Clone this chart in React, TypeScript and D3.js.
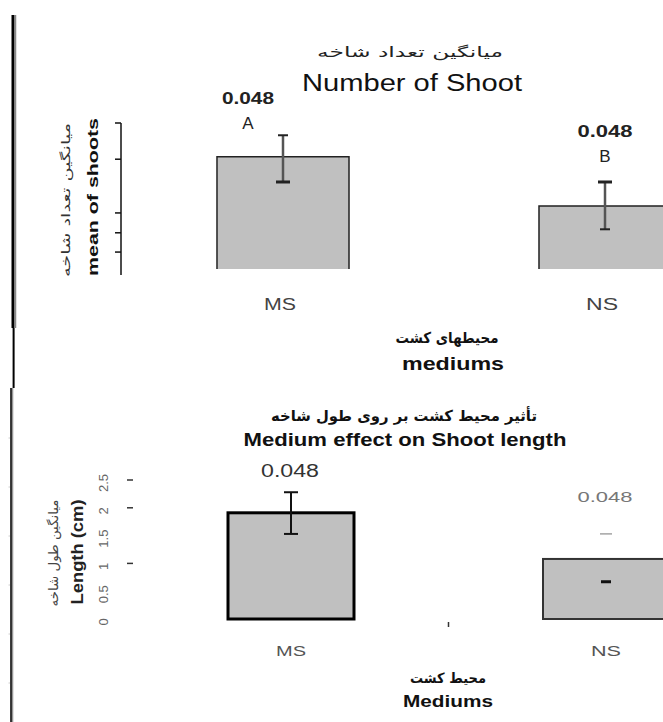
import React from "react";
import * as d3 from "d3";

// ---------- data ----------
const categories = ["MS", "NS"];

// Panel 1: Number of Shoot
const shootMeans = [1.92, 1.08];
const shootErrHigh = [2.29, 1.49];
const shootErrLow = [1.49, 0.68];
const shootPValues = ["0.048", "0.048"];
const shootGroups = ["A", "B"];
const shootTicks = [0.29, 0.62, 0.96, 1.88, 2.5];

// Panel 2: Shoot length
const lengthMeans = [1.91, 1.08];
const lengthErrHigh = [2.28, 1.53];
const lengthErrLow = [1.53, 0.67];
const lengthPValues = ["0.048", "0.048"];
const lengthTicks = [0, 0.5, 1, 1.5, 2, 2.5];
const lengthTickLabels = ["0", "0.5", "1", "1.5", "2", "2.5"];
const lengthTickMarks = [1, 2, 2.5];

const FA = "'DejaVu Sans', sans-serif";
const EN = "'Liberation Sans', Arial, sans-serif";

export default function App() {
  // ---- panel 1 scales
  const x1 = d3.scaleBand<string>().domain(categories).range([27, 861]).paddingInner(0.59).paddingOuter(0.59);
  const y1 = d3.scaleLinear().domain([0, 2.5]).range([269, 123]);
  // ---- panel 2 scales
  const x2 = d3.scaleBand<string>().domain(categories).range([39, 858]).paddingInner(0.6).paddingOuter(0.6);
  const y2 = d3.scaleLinear().domain([0, 2.5]).range([619, 480]);

  const axisX1 = 121;
  const bw1 = x1.bandwidth();
  const bw2 = x2.bandwidth();

  return (
    <svg
      width={663}
      height={722}
      viewBox="0 0 663 722"
      style={{ position: "absolute", left: 0, top: 0, background: "#fff" }}
    >
      <rect x={0} y={0} width={663} height={722} fill="#fff" />
      {/* left frame lines */}
      <line x1={13} x2={13} y1={15} y2={328} stroke="#000" strokeWidth={3} />
      <line x1={15.5} x2={15.5} y1={15} y2={328} stroke="#888" strokeWidth={1.5} />
      <line x1={13.6} x2={13.6} y1={328} y2={388} stroke="#000" strokeWidth={2} />
      <line x1={11.3} x2={11.3} y1={388} y2={722} stroke="#333" strokeWidth={2.5} />
      <line x1={12.8} x2={12.8} y1={388} y2={722} stroke="#999" strokeWidth={1} />
      {[438, 487, 536, 585, 634, 683].map((yy) => (
        <line key={yy} x1={8.5} x2={10} y1={yy} y2={yy} stroke="#ccc" strokeWidth={1} />
      ))}

      {/* ================= Panel 1 ================= */}
      <text x={410} y={57} textAnchor="middle" fontFamily={FA} fontSize={14} fill="#222" textLength={186} lengthAdjust="spacingAndGlyphs">
        میانگین تعداد شاخه
      </text>
      <text x={412} y={91} textAnchor="middle" fontFamily={EN} fontSize={23} fill="#111" textLength={220} lengthAdjust="spacingAndGlyphs">
        Number of Shoot
      </text>

      {/* y axis */}
      <line x1={axisX1} x2={axisX1} y1={y1(2.5)} y2={y1(0) + 6} stroke="#111" strokeWidth={1.5} />
      {shootTicks.map((t) => (
        <line key={t} x1={axisX1 - 6} x2={axisX1} y1={y1(t)} y2={y1(t)} stroke="#111" strokeWidth={1.5} />
      ))}

      {/* y titles */}
      <g transform={`translate(70, ${(y1(2.5) + y1(0)) / 2 + 4}) rotate(-90)`}>
        <text x={0} y={0} textAnchor="middle" fontFamily={FA} fontSize={12} fill="#333" textLength={154} lengthAdjust="spacingAndGlyphs">
          میانگین تعداد شاخه
        </text>
      </g>
      <g transform={`translate(98, ${(y1(2.5) + y1(0)) / 2 + 1}) rotate(-90)`}>
        <text x={0} y={0} textAnchor="middle" fontFamily={EN} fontSize={15} fontWeight="bold" fill="#111" textLength={158} lengthAdjust="spacingAndGlyphs">
          mean of shoots
        </text>
      </g>

      {/* bars */}
      {categories.map((c, i) => {
        const x0 = x1(c)!;
        const top = y1(shootMeans[i]);
        const bottom = y1(0);
        return (
          <g key={c}>
            <rect x={x0} y={top} width={bw1} height={bottom - top} fill="#c0c0c0" />
            <path d={`M${x0},${bottom} V${top} H${x0 + bw1} V${bottom}`} fill="none" stroke="#222" strokeWidth={1.5} />
          </g>
        );
      })}

      {/* error bars */}
      {categories.map((c, i) => {
        const cx = x1(c)! + bw1 / 2;
        const hi = y1(shootErrHigh[i]);
        const lo = y1(shootErrLow[i]);
        const thickTop = i === 1;
        return (
          <g key={c}>
            <line x1={cx} x2={cx} y1={hi} y2={lo} stroke="#555" strokeWidth={2.5} />
            <line x1={cx - (thickTop ? 7 : 5)} x2={cx + (thickTop ? 7 : 5)} y1={hi} y2={hi} stroke="#222" strokeWidth={thickTop ? 3 : 2} />
            <line x1={cx - (thickTop ? 5 : 7)} x2={cx + (thickTop ? 5 : 7)} y1={lo} y2={lo} stroke="#222" strokeWidth={thickTop ? 2 : 3} />
          </g>
        );
      })}

      {/* p-values and group letters */}
      {categories.map((c, i) => {
        const cx = x1(c)! + bw1 / 2;
        const base = i === 0 ? 104 : 137;
        return (
          <g key={c}>
            <text x={cx - (i === 0 ? 35 : 0)} y={base} textAnchor="middle" fontFamily={EN} fontSize={16} fontWeight="bold" fill="#222" textLength={i === 0 ? 52 : 55} lengthAdjust="spacingAndGlyphs">
              {shootPValues[i]}
            </text>
            <text x={cx - (i === 0 ? 35 : 0)} y={base + 25} textAnchor="middle" fontFamily={EN} fontSize={17} fill="#222">
              {shootGroups[i]}
            </text>
          </g>
        );
      })}

      {/* category labels */}
      {categories.map((c) => (
        <text key={c} x={x1(c)! + bw1 / 2 - 3} y={310} textAnchor="middle" fontFamily={EN} fontSize={16} fill="#444" textLength={32} lengthAdjust="spacingAndGlyphs">
          {c}
        </text>
      ))}

      {/* x title */}
      <text x={447} y={343} textAnchor="middle" fontFamily={FA} fontSize={15} fontWeight="bold" fill="#111" textLength={103} lengthAdjust="spacingAndGlyphs">
        محیطهای کشت
      </text>
      <text x={453} y={370} textAnchor="middle" fontFamily={EN} fontSize={18} fontWeight="bold" fill="#111" textLength={102} lengthAdjust="spacingAndGlyphs">
        mediums
      </text>

      {/* ================= Panel 2 ================= */}
      <text x={404} y={421} textAnchor="middle" fontFamily={FA} fontSize={15} fontWeight="bold" fill="#111" textLength={266} lengthAdjust="spacingAndGlyphs">
        تأثیر محیط کشت بر روی طول شاخه
      </text>
      <text x={405} y={446} textAnchor="middle" fontFamily={EN} fontSize={18} fontWeight="bold" fill="#111" textLength={323} lengthAdjust="spacingAndGlyphs">
        Medium effect on Shoot length
      </text>

      {/* y tick labels (rotated) and tick marks */}
      {lengthTicks.map((t, i) => (
        <g key={t} transform={`translate(108, ${y2(t) + 3}) rotate(-90)`}>
          <text x={0} y={0} textAnchor="middle" fontFamily={EN} fontSize={13} fill="#666">
            {lengthTickLabels[i]}
          </text>
        </g>
      ))}
      {lengthTickMarks.map((t) => (
        <line key={t} x1={127} x2={133} y1={y2(t)} y2={y2(t)} stroke="#333" strokeWidth={1.5} />
      ))}

      {/* y titles */}
      <g transform={`translate(58, 553) rotate(-90)`}>
        <text x={0} y={0} textAnchor="middle" fontFamily={FA} fontSize={13} fill="#444" textLength={107} lengthAdjust="spacingAndGlyphs">
          میانگین طول شاخه
        </text>
      </g>
      <g transform={`translate(83, 552) rotate(-90)`}>
        <text x={0} y={0} textAnchor="middle" fontFamily={EN} fontSize={16} fontWeight="bold" fill="#222" textLength={105} lengthAdjust="spacingAndGlyphs">
          Length (cm)
        </text>
      </g>

      {/* bars */}
      {categories.map((c, i) => {
        const x0 = x2(c)!;
        const top = y2(lengthMeans[i]);
        const bottom = y2(0);
        return (
          <rect
            key={c}
            x={x0}
            y={top}
            width={bw2}
            height={bottom - top}
            fill="#c0c0c0"
            stroke={i === 0 ? "#000" : "#333"}
            strokeWidth={i === 0 ? 3 : 2}
          />
        );
      })}

      {/* error bars */}
      {categories.map((c, i) => {
        const cx = x2(c)! + bw2 / 2;
        const hi = y2(lengthErrHigh[i]);
        const lo = y2(lengthErrLow[i]);
        if (i === 0) {
          return (
            <g key={c}>
              <line x1={cx} x2={cx} y1={hi} y2={lo} stroke="#111" strokeWidth={2} />
              <line x1={cx - 7} x2={cx + 7} y1={hi} y2={hi} stroke="#111" strokeWidth={2} />
              <line x1={cx - 7} x2={cx + 7} y1={lo} y2={lo} stroke="#111" strokeWidth={2} />
            </g>
          );
        }
        return (
          <g key={c}>
            <line x1={cx - 6} x2={cx + 6} y1={hi} y2={hi} stroke="#777" strokeWidth={1} />
            <line x1={cx - 5} x2={cx + 5} y1={lo} y2={lo} stroke="#111" strokeWidth={3} />
          </g>
        );
      })}

      {/* p-values */}
      {categories.map((c, i) => {
        const cx = x2(c)! + bw2 / 2;
        return (
          <text
            key={c}
            x={cx - 1}
            y={i === 0 ? 477 : 502}
            textAnchor="middle"
            fontFamily={EN}
            fontSize={i === 0 ? 18 : 14}
            fill={i === 0 ? "#333" : "#777"}
            textLength={i === 0 ? 58 : 55}
            lengthAdjust="spacingAndGlyphs"
          >
            {lengthPValues[i]}
          </text>
        );
      })}

      {/* x axis tick between categories */}
      <line
        x1={(x2(categories[0])! + x2(categories[1])! + bw2) / 2}
        x2={(x2(categories[0])! + x2(categories[1])! + bw2) / 2}
        y1={y2(0) + 3}
        y2={y2(0) + 8}
        stroke="#333"
        strokeWidth={1.5}
      />

      {/* category labels */}
      {categories.map((c) => (
        <text key={c} x={x2(c)! + bw2 / 2} y={656} textAnchor="middle" fontFamily={EN} fontSize={15} fill="#555" textLength={30} lengthAdjust="spacingAndGlyphs">
          {c}
        </text>
      ))}

      {/* x title */}
      <text x={448} y={683} textAnchor="middle" fontFamily={FA} fontSize={14} fontWeight="bold" fill="#111" textLength={76} lengthAdjust="spacingAndGlyphs">
        محیط کشت
      </text>
      <text x={448} y={707} textAnchor="middle" fontFamily={EN} fontSize={16} fontWeight="bold" fill="#111" textLength={90} lengthAdjust="spacingAndGlyphs">
        Mediums
      </text>
    </svg>
  );
}
